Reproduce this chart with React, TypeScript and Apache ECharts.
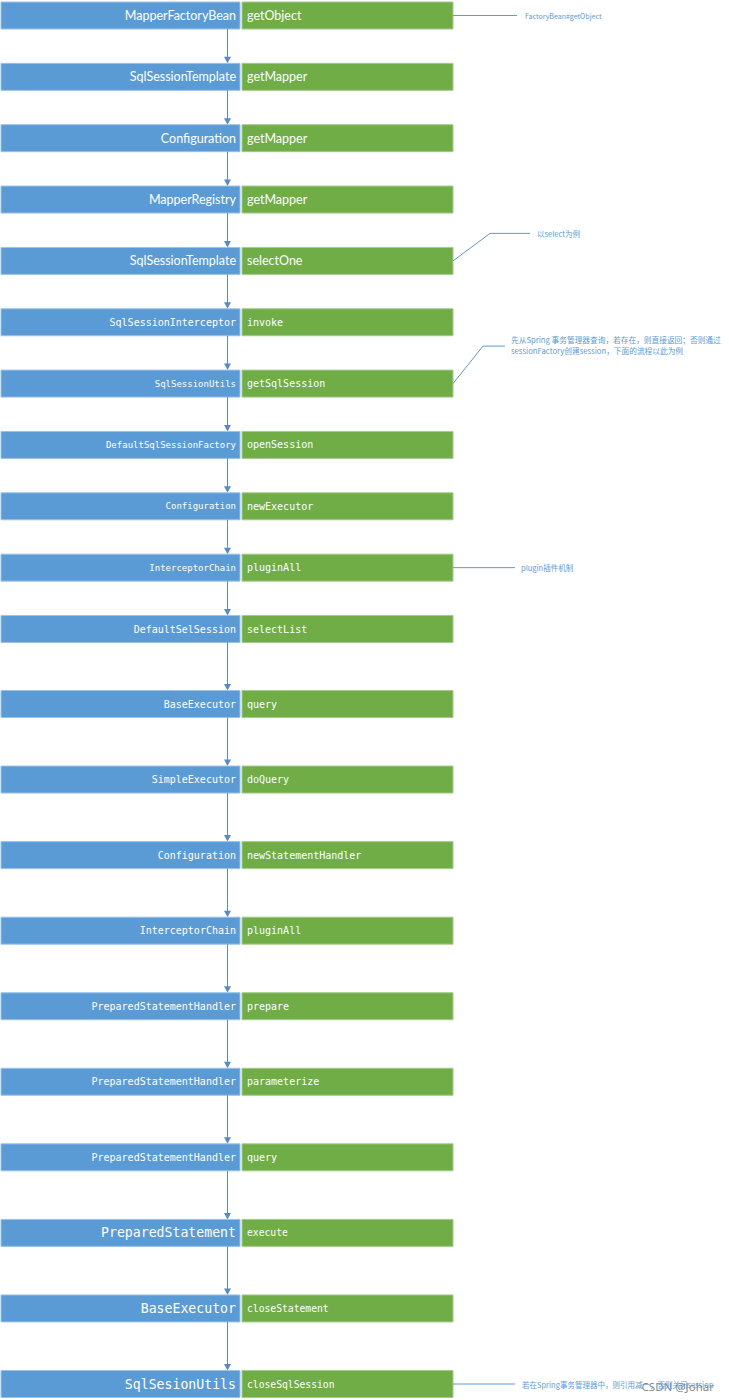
import React, { useEffect, useRef } from "react";
import * as echarts from "echarts";

// ---- data ----
const classNames = [
  "MapperFactoryBean",
  "SqlSessionTemplate",
  "Configuration",
  "MapperRegistry",
  "SqlSessionTemplate",
  "SqlSessionInterceptor",
  "SqlSessionUtils",
  "DefaultSqlSessionFactory",
  "Configuration",
  "InterceptorChain",
  "DefaultSelSession",
  "BaseExecutor",
  "SimpleExecutor",
  "Configuration",
  "InterceptorChain",
  "PreparedStatementHandler",
  "PreparedStatementHandler",
  "PreparedStatementHandler",
  "PreparedStatement",
  "BaseExecutor",
  "SqlSesionUtils",
];
const methodNames = [
  "getObject",
  "getMapper",
  "getMapper",
  "getMapper",
  "selectOne",
  "invoke",
  "getSqlSession",
  "openSession",
  "newExecutor",
  "pluginAll",
  "selectList",
  "query",
  "doQuery",
  "newStatementHandler",
  "pluginAll",
  "prepare",
  "parameterize",
  "query",
  "execute",
  "closeStatement",
  "closeSqlSession",
];
const noteSteps = [0, 4, 6, 9, 20];
const noteTexts = [
  "FactoryBean#getObject",
  "以select为例",
  "先从Spring 事务管理器查询，若存在，则直接返回；否则通过\nsessionFactory创建session，下面的流程以此为例",
  "plugin插件机制",
  "若在Spring事务管理器中，则引用减一，否则关闭session",
];
const watermark = "CSDN @Johar";

// ---- layout / style ----
const SPLIT = 11; // first section rows
const BOX_H = 27;
const BLUE = "#5B9BD5";
const GREEN = "#70AD47";
const ARROW = "#5A8AC6";
const NOTE = "#5B9BD5";
const MONO = "'DejaVu Sans Mono', 'Liberation Mono', monospace";
const noteLayout = [
  { rise: 0, bendX: 0, endX: 517, textX: 525, size: 7 },
  { rise: -27.5, bendX: 490, endX: 530, textX: 537, size: 7.5 },
  { rise: -37.5, bendX: 483, endX: 505, textX: 511, size: 7.7 },
  { rise: 0, bendX: 0, endX: 515, textX: 521, size: 7.5 },
  { rise: 0, bendX: 0, endX: 515, textX: 522, size: 7.5 },
];

function styleFor(g: number) {
  if (g < 5) {
    return {
      cls: { fontFamily: "Lato", fontSize: 12.5 },
      met: { fontFamily: "Lato", fontSize: 12.5 },
    };
  }
  if (g < 18) {
    const condensed = g >= 6 && g <= 9;
    return {
      cls: { fontFamily: MONO, fontSize: condensed ? 9 : 10 },
      met: { fontFamily: MONO, fontSize: 10 },
    };
  }
  return {
    cls: { fontFamily: MONO, fontSize: 13.2 },
    met: { fontFamily: MONO, fontSize: 9.7 },
  };
}

function renderItem(params: any, api: any) {
  const local = api.value(1);
  const g = api.value(2);
  const pt = api.coord([0, local]);
  const cy = pt[1];
  const spacing = api.size([0, 1])[1];
  const st = styleFor(g);
  const children: any[] = [];

  // incoming arrow
  if (g > 0) {
    const y0 = cy - spacing + BOX_H / 2;
    const tip = cy - BOX_H / 2;
    children.push({
      type: "line",
      shape: { x1: 227.5, y1: y0, x2: 227.5, y2: tip - 5 },
      style: { stroke: ARROW, lineWidth: 1 },
    });
    children.push({
      type: "polygon",
      shape: { points: [[224, tip - 6.5], [231, tip - 6.5], [227.5, tip]] },
      style: { fill: ARROW },
    });
  }

  children.push({
    type: "rect",
    shape: { x: 1, y: cy - BOX_H / 2, width: 239, height: BOX_H },
    style: { fill: BLUE, stroke: "#9CC2E8", lineWidth: 1 },
  });
  children.push({
    type: "rect",
    shape: { x: 242, y: cy - BOX_H / 2, width: 211, height: BOX_H },
    style: { fill: GREEN, stroke: "#A3CC8A", lineWidth: 1 },
  });
  children.push({
    type: "text",
    style: {
      text: classNames[g],
      x: 236,
      y: cy,
      align: "right",
      verticalAlign: "middle",
      fill: "#ffffff",
      ...st.cls,
    },
  });
  children.push({
    type: "text",
    style: {
      text: methodNames[g],
      x: 247,
      y: cy,
      align: "left",
      verticalAlign: "middle",
      fill: "#ffffff",
      ...st.met,
    },
  });

  const ni = noteSteps.indexOf(g);
  if (ni >= 0) {
    const L = noteLayout[ni];
    const ly = cy + L.rise;
    const pts =
      L.rise === 0
        ? [[453, cy], [L.endX, cy]]
        : [[453, cy], [L.bendX, ly], [L.endX, ly]];
    children.push({
      type: "polyline",
      shape: { points: pts },
      style: { stroke: NOTE, lineWidth: 1, fill: null },
    });
    const multi = noteTexts[ni].indexOf("\n") >= 0;
    children.push({
      type: "text",
      style: {
        text: noteTexts[ni],
        x: L.textX,
        y: multi ? ly - 1 : ly,
        align: "left",
        verticalAlign: "middle",
        fill: NOTE,
        fontFamily: "'Noto Sans CJK SC', Lato",
        fontSize: L.size,
        lineHeight: 11,
      },
    });
  }

  return { type: "group", children };
}

export default function App() {
  const ref = useRef<HTMLDivElement>(null);
  useEffect(() => {
    document.body.style.margin = "0";
    const chart = echarts.init(ref.current!, null, { renderer: "svg" });
    const sec1 = classNames.slice(0, SPLIT);
    const sec2 = classNames.slice(SPLIT);
    chart.setOption({
      animation: false,
      backgroundColor: "#ffffff",
      grid: [
        { left: 0, right: 0, top: 15.5, height: 613.5 },
        { left: 0, right: 0, top: 704, height: 680 },
      ],
      xAxis: [
        { type: "value", gridIndex: 0, min: 0, max: 729, show: false },
        { type: "value", gridIndex: 1, min: 0, max: 729, show: false },
      ],
      yAxis: [
        { type: "category", gridIndex: 0, data: sec1, inverse: true, boundaryGap: false, show: false },
        { type: "category", gridIndex: 1, data: sec2, inverse: true, boundaryGap: false, show: false },
      ],
      series: [
        {
          type: "custom",
          xAxisIndex: 0,
          yAxisIndex: 0,
          clip: false,
          silent: true,
          renderItem,
          encode: { x: 0, y: 1 },
          data: sec1.map((_, i) => [0, i, i]),
        },
        {
          type: "custom",
          xAxisIndex: 1,
          yAxisIndex: 1,
          clip: false,
          silent: true,
          renderItem,
          encode: { x: 0, y: 1 },
          data: sec2.map((_, i) => [0, i, i + SPLIT]),
        },
      ],
      graphic: [
        {
          type: "text",
          right: 15,
          top: 1380,
          style: {
            text: watermark,
            fill: "rgba(90,90,90,0.75)",
            fontFamily: "'Noto Sans', Lato",
            fontSize: 11.5,
          },
          silent: true,
        },
      ],
    });
    return () => chart.dispose();
  }, []);
  return <div ref={ref} style={{ width: 729, height: 1400 }} />;
}
